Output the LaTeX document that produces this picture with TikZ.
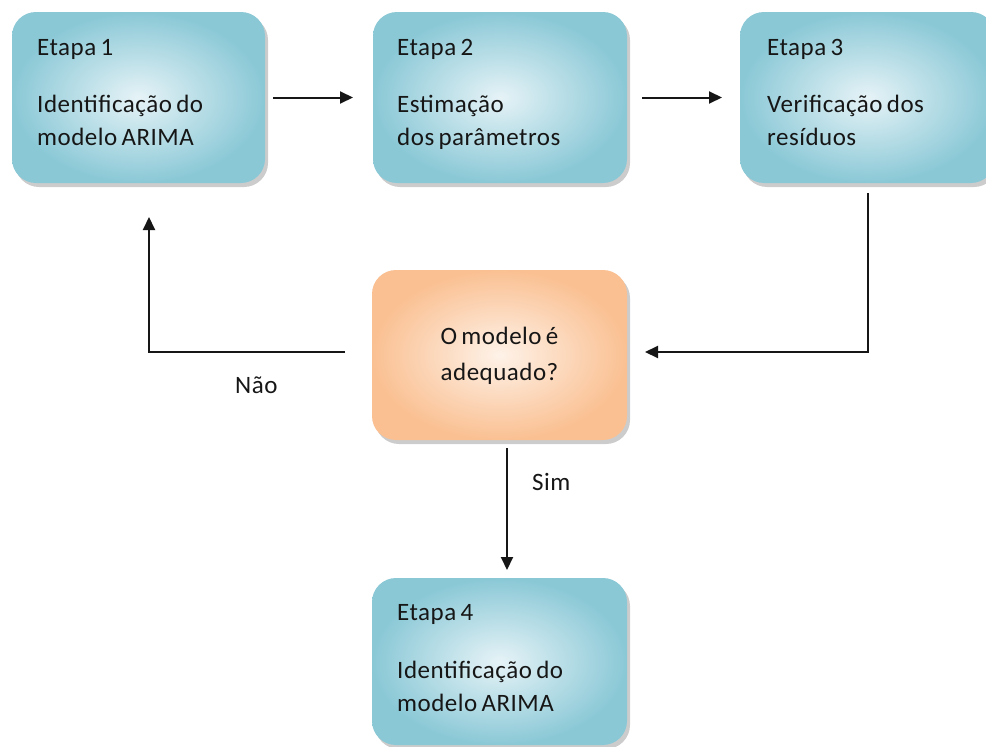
\documentclass[tikz,border=0pt]{standalone}
\usepackage{fontspec}
\setmainfont{Carlito}[LetterSpace=2, WordSpace=0.7]
\usetikzlibrary{arrows.meta,shadows}
\definecolor{blueout}{RGB}{138,200,214}
\definecolor{bluein}{RGB}{230,243,247}
\definecolor{orout}{RGB}{250,192,146}
\definecolor{orin}{RGB}{254,242,232}
\definecolor{ink}{RGB}{22,22,22}
\tikzset{
  boxbase/.style={rectangle, rounded corners=24pt, inner sep=0pt, outer sep=0pt,
    minimum height=171pt,
    drop shadow={shadow xshift=3pt, shadow yshift=-4pt, fill=black, opacity=0.2}},
  bluebox/.style={boxbase, shading=radial, inner color=bluein, outer color=blueout},
  orbox/.style={boxbase, shading=radial, inner color=orin, outer color=orout},
  txt/.style={anchor=base west, inner sep=0pt, font=\fontsize{25}{33}\selectfont, text=ink},
  arr/.style={draw=ink, line width=2pt, -{Triangle[length=13pt,width=12pt]}},
}
\begin{document}
\begin{tikzpicture}[x=1pt,y=-1pt]
\useasboundingbox[fill=white] (0,0) rectangle (986,747);
% boxes
\node[bluebox, minimum width=253pt] (b1) at (138.5,97.5) {};
\node[bluebox, minimum width=254pt] (b2) at (500,97.5) {};
\node[bluebox, minimum width=255pt] (b3) at (867.5,97.5) {};
\node[orbox, minimum width=255pt, minimum height=170pt] (d) at (499.5,355) {};
\node[bluebox, minimum width=255pt, minimum height=167pt] (b4) at (499.5,661.5) {};
% texts
\node[txt] (e1) at (37,55) {Etapa 1};
\node[txt] (e1a) at (37,112) {Identificação do};
\node[txt] (e1b) at (37,145) {modelo ARIMA};
\node[txt] (e2) at (397,55) {Etapa 2};
\node[txt] (e2a) at (397,112) {Estimação};
\node[txt] (e2b) at (397,145) {dos parâmetros};
\node[txt] (e3) at (767,55) {Etapa 3};
\node[txt] (e3a) at (767,112) {Verificação dos};
\node[txt] (e3b) at (767,145) {resíduos};
\node[txt, anchor=base] (dt1) at (499.5,344) {O modelo é};
\node[txt, anchor=base] (dt2) at (499.5,380) {adequado?};
\node[txt] (e4) at (397,620) {Etapa 4};
\node[txt] (e4a) at (397,678) {Identificação do};
\node[txt] (e4b) at (397,711) {modelo ARIMA};
\node[txt] (nao) at (235,393) {Não};
\node[txt] (sim) at (532,490) {Sim};
% connectors
\draw[arr, shorten <=8pt, shorten >=20pt] (b1) -- (b2);
\draw[arr, shorten <=15pt, shorten >=18pt] (b2) -- (b3);
\draw[arr, shorten <=10pt, shorten >=18pt] (b3.south) |- ([yshift=3pt]d.east);
\draw[arr, shorten <=27pt, shorten >=34pt] ([yshift=3pt]d.west) -| ([xshift=10.5pt]b1.south);
\draw[arr, shorten <=8pt, shorten >=8pt] ([xshift=7.5pt]d.south) -- ([xshift=7.5pt]b4.north);
\end{tikzpicture}
\end{document}
